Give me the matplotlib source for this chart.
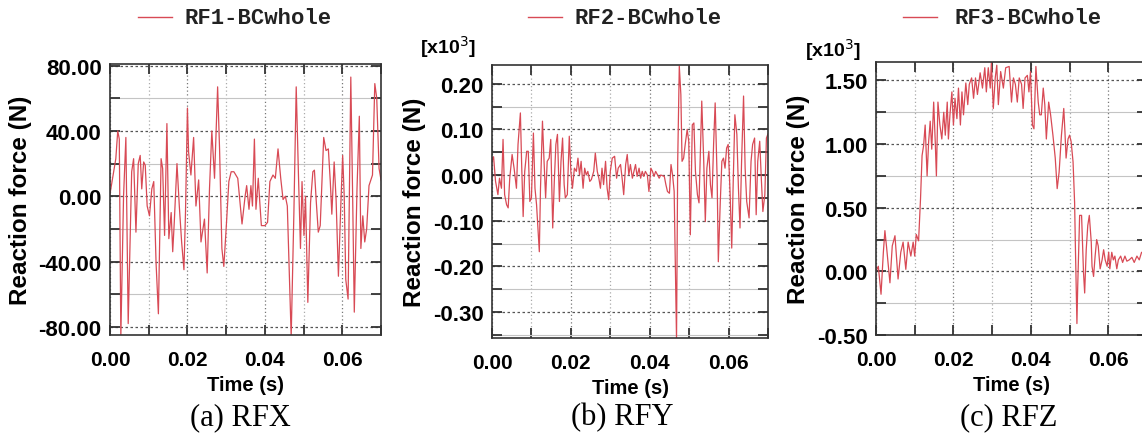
import matplotlib
matplotlib.use("Agg")
import numpy as np
import matplotlib.pyplot as plt
from matplotlib.ticker import MultipleLocator, FormatStrFormatter

plt.rcParams['font.family'] = ['Liberation Sans', 'DejaVu Sans']
plt.rcParams['axes.unicode_minus'] = False

# RFX (N), time in ms
t_x = [0, 1.5, 2.0, 2.4, 2.8, 3.5, 4.1, 4.7, 5.6, 6.1, 6.7, 7.3, 7.8, 8.2, 8.7, 9.1,
       9.6, 10.2, 10.8, 11.3, 11.9, 12.5, 13.2, 13.6, 14.1, 14.7, 15.2, 15.8, 16.2,
       16.6, 17.3, 17.9, 18.5, 19.1, 19.5, 20.0, 20.3, 20.9, 21.6, 22.2, 22.9, 23.5,
       24.4, 25.1, 25.7, 26.3, 27.0, 27.8, 28.3, 28.9, 29.4, 30.0, 30.7, 31.3, 32.0,
       33.0, 34.1, 34.9, 35.3, 35.9, 36.4, 36.8, 37.3, 37.7, 38.3, 38.7, 39.1, 40.0,
       40.7, 41.3, 42.1, 42.7, 43.4, 44.1, 44.7, 45.3, 45.8, 46.8, 47.5, 48.1, 48.7,
       49.2, 49.6, 50.1, 50.5, 51.1, 51.8, 52.4, 52.8, 53.3, 53.8, 54.3, 55.2, 55.8,
       56.4, 56.9, 57.3, 57.9, 58.4, 59.0, 59.7, 60.1, 60.5, 60.9, 61.5, 62.2, 62.7,
       63.1, 63.8, 64.4, 64.8, 65.3, 65.8, 66.3, 66.9, 67.8, 68.4, 68.9, 69.5, 70.0]
rf_x = [1.4, 23, 40, 35, -86, 0, 36, -78, 15, 23, -22, 20, 25, 4.5, 21, 19,
        -6, -12, 4.5, 9, -41, -72, 23, 17, -24, 44.5, -26, -10, -34,
        -16, 20, -6, -28, -45, -10, 54, 27, 13, 36, -6, 10, -28,
        -14, -47, 4.5, 40, 11, 67, 29, -32, -43, -20, 9, 15, 15,
        11, -17, 0, 6.5, -8, 6.5, -6, 35, -8, 11, -4, -18, -18,
        -16, 9, 13, 11, 29, 11, -2, 0, -6, -86, -10, 67, 11,
        -32, 9, -24, 0, -65, -4, 15, 16, -4, -22, -18, 36, 28,
        29, 9, -11, 21, -2, -49, 0, 25, 0, -51, -63, 73, -4,
        -71, 4.5, 49, -32, -12, -28, -20, 6.5, 13, 69, 60, 17, 10]

# RFY (x10^3 N), time in ms
t_y = [0, 0.4, 0.9, 1.5, 1.9, 2.4, 2.8, 3.2, 3.7, 4.1, 4.5, 5.1, 5.6, 6.2, 6.6, 7.2,
       7.5, 7.9, 8.3, 8.8, 9.2, 9.6, 10.0, 10.5, 10.9, 11.3, 12.0, 12.3, 12.8, 13.2,
       13.6, 14.0, 14.5, 14.9, 15.4, 15.8, 16.2, 16.6, 17.1, 17.5, 17.9, 18.3, 18.6,
       19.1, 19.6, 20.0, 20.4, 20.9, 21.4, 21.8, 22.2, 22.6, 23.1, 23.5, 23.9, 24.3,
       24.8, 25.2, 25.8, 26.2, 26.7, 27.1, 27.5, 27.9, 28.3, 28.8, 29.2, 29.6, 30.0,
       30.5, 31.1, 31.6, 32.0, 32.6, 33.0, 33.4, 33.9, 34.3, 34.7, 35.1, 35.6, 36.0,
       36.4, 36.8, 37.3, 37.7, 38.1, 38.5, 38.9, 39.4, 39.8, 40.3, 40.7, 41.1, 41.5,
       42.0, 42.4, 42.8, 43.7, 44.1, 44.5, 45.0, 45.4, 45.8, 46.2, 46.8, 47.1, 47.5,
       47.9, 48.2, 48.6, 49.0, 49.5, 49.9, 50.3, 50.8, 51.2, 51.6, 52.1, 52.5, 52.8,
       53.2, 53.7, 54.1, 54.5, 55.0, 55.4, 55.8, 56.2, 56.6, 57.1, 57.4, 57.9, 58.3,
       58.7, 59.1, 59.5, 59.9, 60.4, 60.8, 61.2, 61.6, 62.1, 62.5, 62.9, 63.3, 63.8,
       64.2, 64.6, 65.2, 65.7, 66.1, 66.6, 67.0, 67.4, 67.9, 68.3, 68.7, 69.2, 69.6,
       70.0]
rf_y = [0.03, 0.04, -0.014, -0.043, -0.007, -0.029, 0.078, -0.043, -0.065, -0.072,
        -0.007, 0.045, 0.015, -0.029, 0.067, 0.136, 0.03, -0.091, 0.008, 0.052, 0.052,
        -0.058, -0.05, 0.092, -0.029, -0.065, -0.168, -0.029, 0.118, 0.03, -0.05, 0.03,
        0.037, 0.078, -0.116, -0.014, 0.067, 0.089, -0.058, 0.03, 0.081, -0.021, -0.05,
        -0.043, 0.085, 0.008, -0.029, 0.015, 0.008, 0.037, 0.0, 0.03, -0.029, 0.015,
        0.0, 0.008, -0.014, -0.01, 0.008, 0.048, 0.008, -0.007, -0.029, 0.015, -0.021,
        0.03, -0.029, -0.054, 0.008, 0.037, 0.041, -0.007, 0.015, 0.023, -0.007, -0.043,
        0.023, 0.045, 0.0, 0.023, -0.007, 0.008, 0.023, -0.003, 0.015, -0.007, 0.008,
        -0.003, 0.008, 0.0, -0.036, 0.015, 0.008, -0.003, 0.008, 0.0, -0.007, 0.0,
        -0.003, -0.021, -0.036, -0.04, 0.023, 0.0, -0.036, -0.36, 0.03, 0.239, 0.176,
        0.03, 0.037, 0.067, 0.1, 0.074, -0.131, 0.11, 0.114, 0.008, -0.043, -0.061,
        0.037, 0.162, 0.03, -0.102, 0.015, 0.052, -0.021, -0.05, 0.067, 0.158, -0.007,
        -0.19, -0.058, 0.03, 0.037, 0.015, 0.059, 0.067, -0.043, -0.16, -0.007, 0.132,
        0.089, -0.029, -0.116, 0.03, 0.173, 0.015, -0.058, -0.094, 0.03, 0.067, 0.081,
        -0.087, 0.03, 0.074, -0.007, -0.08, -0.043, 0.081, 0.09]

# RFZ (x10^3 N), time in ms
t_z = [0, 0.6, 1.3, 1.9, 2.3, 2.7, 3.6, 4.2, 4.9, 5.7, 6.4, 7.0, 7.7, 8.3, 9.0, 9.6,
       10.0, 10.4, 11.0, 11.5, 11.9, 12.3, 12.7, 13.2, 13.6, 14.0, 14.4, 14.9, 15.3,
       15.6, 16.0, 16.5, 17.0, 17.5, 17.9, 18.4, 18.7, 19.1, 19.6, 20.0, 20.4, 20.9,
       21.3, 21.8, 22.2, 22.6, 23.2, 23.7, 24.1, 24.7, 25.2, 25.7, 26.2, 26.9, 27.5,
       28.1, 28.5, 29.0, 29.5, 29.8, 30.3, 30.8, 31.2, 31.6, 32.2, 32.9, 33.5, 34.4,
       35.0, 35.5, 36.0, 36.5, 37.0, 37.6, 38.0, 38.5, 39.1, 39.5, 39.9, 40.4, 40.8,
       41.3, 41.9, 42.3, 42.7, 43.2, 43.6, 44.0, 44.6, 45.1, 45.7, 46.3, 46.8, 47.3,
       47.9, 48.5, 48.8, 49.1, 49.6, 50.0, 50.4, 50.9, 51.3, 51.5, 51.9, 52.1, 52.6,
       53.1, 53.6, 53.9, 54.3, 54.7, 55.1, 55.6, 55.8, 56.2, 56.6, 57.0, 57.4, 57.9,
       58.4, 58.8, 59.2, 59.7, 60.1, 60.4, 60.9, 61.3, 61.7, 62.2, 62.6, 63.2, 63.7,
       64.3, 64.8, 65.4, 66.1, 66.7, 67.4, 68.0, 68.6, 70.0]
rf_z = [0.0, 0.04, -0.18, 0.15, 0.32, 0.2, -0.09, 0.2, 0.28, -0.06, 0.15, 0.23, 0.016,
        0.23, 0.12, 0.23, 0.12, 0.29, 0.24, 0.57, 0.91, 0.99, 1.15, 0.75, 1.02, 1.18,
        0.96, 1.33, 1.02, 0.75, 1.33, 1.15, 1.04, 1.25, 1.07, 1.33, 1.04, 1.23, 1.41,
        1.15, 1.36, 1.2, 1.44, 1.15, 1.41, 1.23, 1.48, 1.31, 1.47, 1.52, 1.36, 1.52,
        1.39, 1.56, 1.44, 1.6, 1.41, 1.6, 1.44, 1.64, 1.28, 1.52, 1.62, 1.31, 1.57,
        1.44, 1.6, 1.61, 1.33, 1.52, 1.47, 1.33, 1.52, 1.47, 1.28, 1.52, 1.54, 1.41,
        1.57, 1.15, 1.12, 1.61, 1.33, 1.23, 1.23, 1.44, 1.31, 1.04, 1.33, 1.23, 1.07,
        0.89, 0.65, 0.78, 1.07, 1.28, 1.1, 0.89, 1.04, 1.07, 1.02, 0.86, 0.54, 0.2,
        -0.41, -0.12, 0.44, 0.44, -0.01, -0.17, 0.17, 0.36, 0.44, 0.23, 0.04, -0.04,
        0.12, 0.25, 0.2, 0.02, 0.09, 0.17, 0.09, 0.04, 0.15, 0.02, 0.15, 0.09, 0.12,
        0.02, 0.09, 0.12, 0.07, 0.12, 0.08, 0.09, 0.11, 0.07, 0.12, 0.09, 0.15, 0.12]

legend_names = ['RF1-BCwhole', 'RF2-BCwhole', 'RF3-BCwhole']
captions = ['(a) RFX', '(b) RFY', '(c) RFZ']

W, H = 1142, 435
fig = plt.figure(figsize=(W / 100, H / 100), dpi=100)

line_col = '#d84a55'

def px_axes(left, top, right, bottom):
    return fig.add_axes([left / W, 1 - bottom / H, (right - left) / W, (bottom - top) / H])

def style(ax, ylim, ymaj, ymin):
    ax.set_xlim(0, 0.07)
    ax.set_ylim(*ylim)
    ax.xaxis.set_major_locator(MultipleLocator(0.02))
    ax.xaxis.set_minor_locator(MultipleLocator(0.01))
    ax.yaxis.set_major_locator(MultipleLocator(ymaj))
    ax.yaxis.set_minor_locator(MultipleLocator(ymin))
    ax.xaxis.set_major_formatter(FormatStrFormatter('%.2f'))
    ax.yaxis.set_major_formatter(FormatStrFormatter('%.2f'))
    ax.grid(which='major', axis='y', ls=(0, (2, 2)), color='#555555', lw=0.9)
    ax.grid(which='minor', axis='y', ls='-', color='#c4c4c4', lw=0.8)
    ax.grid(which='major', axis='x', ls=(0, (1, 2)), color='#777777', lw=0.9)
    ax.grid(which='minor', axis='x', ls=(0, (1, 2)), color='#aaaaaa', lw=0.9)
    ax.set_axisbelow(True)
    ax.tick_params(which='both', direction='in', top=True, right=True,
                   length=7, width=1.3, color='#333333')
    ax.tick_params(axis='x', which='major', labelsize=15, pad=11)
    ax.tick_params(axis='y', which='major', labelsize=16, pad=6)
    for lab in ax.get_xticklabels() + ax.get_yticklabels():
        lab.set_fontweight('bold')
    for s in ax.spines.values():
        s.set_color('#333333')
        s.set_linewidth(1.2)
    ax.set_xlabel('Time (s)', fontsize=14.5, fontweight='bold', labelpad=4)
    ax.set_ylabel('Reaction force (N)', fontsize=17.5, fontweight='bold', labelpad=5)

ax1 = px_axes(110, 65, 381, 336)
ax2 = px_axes(492, 66, 768, 339)
ax3 = px_axes(876, 63, 1147, 336)

series = [(t_x, rf_x), (t_y, rf_y), (t_z, rf_z)]
for ax, (t, v) in zip([ax1, ax2, ax3], series):
    ax.plot(np.array(t) / 1000.0, v, color=line_col, lw=0.9)

style(ax1, (-85, 81), 40, 20)
style(ax2, (-0.357, 0.241), 0.1, 0.05)
style(ax3, (-0.5, 1.645), 0.5, 0.25)

# legends (drawn as figure elements above each panel)
leg_pos = [(138, 185), (528, 575), (903, 955)]
for (lx, tx), name in zip(leg_pos, legend_names):
    fig.add_artist(plt.Line2D([lx / W, (lx + 34) / W], [1 - 18 / H] * 2,
                              color=line_col, lw=1.0))
    fig.text(tx / W, 1 - 18 / H, name, family='Liberation Mono', weight='bold',
             fontsize=16, va='center', ha='left', color='#222222')

# scale multipliers
for x, y in [(420, 47), (805, 50)]:
    fig.text(x / W, 1 - y / H, r'[x10$^3$]', fontsize=14, fontweight='bold',
             va='center', ha='left')

# captions
for x, c in zip([240, 622, 1009], captions):
    fig.text(x / W, 1 - 418 / H, c, family='Liberation Serif', fontsize=22,
             ha='center', va='center')

fig.savefig('out.png', dpi=100)
